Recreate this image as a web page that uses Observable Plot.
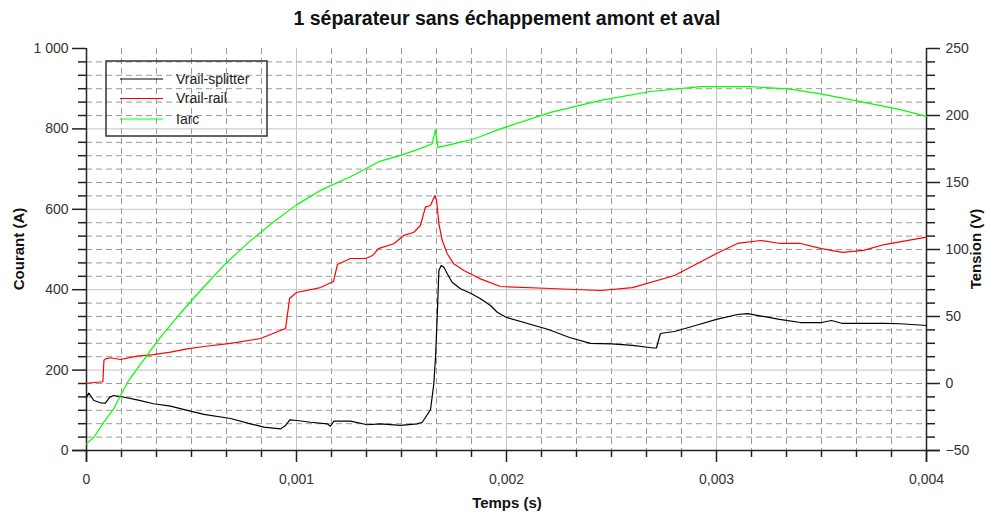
<!DOCTYPE html>
<html>
<head>
<meta charset="utf-8">
<script src="https://cdn.jsdelivr.net/npm/d3@7"></script>
<script src="https://cdn.jsdelivr.net/npm/@observablehq/plot@0.6"></script>
<style>
  html, body { margin: 0; padding: 0; background: #fff; }
  #chart { width: 987px; height: 514px; }
</style>
</head>
<body>
<div id="chart"></div>
<script>
// ---- Data (time in ms) ----
const titleText = "1 séparateur sans échappement amont et aval";
const seriesNames = ["Vrail-splitter", "Vrail-rail", "Iarc"];
const seriesColors = ["#000000", "#ff0000", "#00ff00"];

// Iarc (A), left axis
const tIarc = [0, 0.035, 0.082, 0.130, 0.162, 0.201, 0.241, 0.292, 0.340, 0.448, 0.543, 0.662, 0.781, 0.9, 1.0, 1.114, 1.257, 1.4, 1.495, 1.590, 1.646, 1.662, 1.673, 1.718, 1.781, 1.832, 1.876, 1.971, 2.210, 2.448, 2.686, 2.924, 3.162, 3.352, 3.495, 3.686, 3.876, 4.0];
const vIarc = [17, 33, 70, 104, 137, 174, 203, 239, 274, 342, 398, 465, 522, 572, 611, 647, 681, 720, 734, 751, 763, 798, 754, 759, 767, 773, 781, 800, 841, 871, 893, 905, 905, 899, 887, 868, 848, 831];

// Vrail-splitter (V), right axis
const tSplitter = [0, 0.011, 0.035, 0.067, 0.090, 0.111, 0.130, 0.162, 0.241, 0.320, 0.4, 0.480, 0.559, 0.686, 0.781, 0.844, 0.924, 0.948, 0.968, 1.003, 1.067, 1.146, 1.162, 1.178, 1.257, 1.337, 1.4, 1.495, 1.575, 1.599, 1.638, 1.654, 1.662, 1.670, 1.678, 1.689, 1.702, 1.718, 1.741, 1.781, 1.829, 1.876, 1.924, 1.956, 2.0, 2.2, 2.3, 2.4, 2.5, 2.6, 2.7, 2.714, 2.733, 2.8, 2.9, 3.0, 3.1, 3.148, 3.2, 3.3, 3.4, 3.5, 3.548, 3.6, 3.7, 3.8, 3.876, 4.0];
const vSplitter = [-10.2, -7.2, -12.7, -14.4, -14.7, -10.2, -9.0, -9.7, -12.2, -15.1, -16.9, -20.1, -23.1, -26.1, -30.1, -32.6, -33.8, -31.3, -27.1, -27.6, -28.9, -30.1, -31.9, -28.1, -28.1, -30.8, -30.1, -31.3, -30.1, -28.9, -19.6, -0.2, 19.6, 49.5, 84.3, 88.1, 86.8, 81.9, 75.6, 70.7, 67.4, 63.2, 58.2, 53.2, 49.3, 40.3, 34.3, 29.9, 29.5, 28.4, 26.5, 26.5, 37.3, 38.8, 43.3, 47.8, 51.5, 52.2, 50.7, 47.8, 45.5, 45.5, 47.0, 44.8, 44.8, 44.8, 44.6, 43.3];

// Vrail-rail (V), right axis
const tRail = [0, 0.078, 0.083, 0.090, 0.114, 0.162, 0.241, 0.320, 0.4, 0.480, 0.559, 0.686, 0.829, 0.924, 0.948, 0.967, 1.0, 1.114, 1.176, 1.195, 1.257, 1.329, 1.362, 1.390, 1.463, 1.511, 1.559, 1.590, 1.614, 1.638, 1.659, 1.667, 1.678, 1.694, 1.718, 1.749, 1.797, 1.844, 1.876, 1.971, 2.210, 2.448, 2.6, 2.8, 3.0, 3.1, 3.210, 3.305, 3.4, 3.5, 3.6, 3.7, 3.8, 4.0];
const vRail = [0.2, 1.3, 17.2, 18.4, 19.2, 17.9, 20.4, 21.6, 23.4, 25.9, 27.6, 29.9, 33.6, 39.6, 41.0, 63.4, 67.9, 71.6, 76.1, 88.8, 93.3, 93.3, 95.5, 100.7, 104.3, 110.5, 112.9, 117.9, 131.6, 132.8, 140.3, 136.6, 119.2, 106.7, 96.8, 89.3, 84.3, 80.6, 78.1, 72.4, 70.9, 69.4, 71.6, 80.6, 97.0, 104.5, 106.7, 104.5, 104.5, 100.7, 97.8, 99.3, 103.7, 109.2];

// Tick values
const xMajorTicks = [0, 0.001, 0.002, 0.003, 0.004];
const yLeftMajorTicks = [0, 200, 400, 600, 800, 1000];
const yRightMajorTicks = [-50, 0, 50, 100, 150, 200, 250];

// ---- Helpers ----
const toA = v => (v + 50) * 10 / 3;          // right axis (V) -> left scale (A)
const fromA = a => a * 3 / 10 - 50;
const yMinor = d3.range(0, 31).map(i => i * 100 / 3).filter((d, i) => i % 6 !== 0);
const yMinorRight = d3.range(-50, 251, 10).filter(v => v % 50 !== 0).map(toA);
const xMinor = d3.range(0, 25).map(i => i * 0.001 / 6).filter((d, i) => i % 6 !== 0);
const xGridMajor = [0.001, 0.002, 0.003];
const yGridMajor = [200, 400, 600, 800];

const iarcData = tIarc.map((t, i) => ({t: t / 1000, y: vIarc[i]}));
const splitterData = tSplitter.map((t, i) => ({t: t / 1000, y: toA(vSplitter[i])}));
const railData = tRail.map((t, i) => ({t: t / 1000, y: toA(vRail[i])}));

const fmtX = d => d === 0 ? "0" : d.toFixed(3).replace(".", ",");
const fmtYL = d => d === 1000 ? "1 000" : String(d);

const axisColor = "#222";
const gridDash = {stroke: "#9a9a9a", strokeOpacity: 1, strokeDasharray: "6,4", strokeWidth: 1};
const gridSolid = {stroke: "#c4c4c4", strokeOpacity: 1, strokeWidth: 1};

const svg = Plot.plot({
  width: 987,
  height: 514,
  marginLeft: 86,
  marginRight: 61,
  marginTop: 48,
  marginBottom: 64,
  style: {fontFamily: "'Liberation Sans', Arial, sans-serif", fontSize: "14px", color: axisColor, background: "#fff"},
  x: {domain: [0, 0.004]},
  y: {domain: [0, 1000]},
  marks: [
    Plot.gridY(yMinor, gridDash),
    Plot.gridX(xMinor, gridDash),
    Plot.gridY(yGridMajor, gridSolid),
    Plot.gridX(xGridMajor, gridSolid),
    // left axis
    Plot.axisY({ticks: yLeftMajorTicks, tickSize: 14, tickPadding: 4, tickFormat: fmtYL, label: null, fontSize: 14, stroke: axisColor, strokeWidth: 1.5, fill: "#333"}),
    Plot.axisY({ticks: yMinor, tickSize: 8, tickFormat: () => "", label: null, stroke: axisColor, strokeWidth: 1.5}),
    // right axis
    Plot.axisY({anchor: "right", ticks: yRightMajorTicks.map(toA), tickSize: 13, tickPadding: 6, tickFormat: a => String(Math.round(fromA(a))).replace("-", "\u2212"), label: null, fontSize: 14, stroke: axisColor, strokeWidth: 1.5, fill: "#333"}),
    Plot.axisY({anchor: "right", ticks: yMinorRight, tickSize: 8, tickFormat: () => "", label: null, stroke: axisColor, strokeWidth: 1.5}),
    // x axis
    Plot.axisX({ticks: xMajorTicks, tickSize: 12, tickPadding: 12, tickFormat: fmtX, label: null, fontSize: 14, stroke: axisColor, strokeWidth: 1.5, fill: "#333"}),
    Plot.axisX({ticks: xMinor, tickSize: 7, tickFormat: () => "", label: null, stroke: axisColor, strokeWidth: 1.5}),
    // axis lines
    Plot.ruleX([0], {stroke: axisColor, strokeWidth: 1.5, insetBottom: -12}),
    Plot.ruleX([0.004], {stroke: axisColor, strokeWidth: 1.5, insetBottom: -12}),
    Plot.ruleY([0], {stroke: axisColor, strokeWidth: 1.5, insetLeft: -14, insetRight: -14}),
    // series
    Plot.line(splitterData, {x: "t", y: "y", stroke: seriesColors[0], strokeWidth: 1.2}),
    Plot.line(railData, {x: "t", y: "y", stroke: seriesColors[1], strokeWidth: 1.2}),
    Plot.line(iarcData, {x: "t", y: "y", stroke: seriesColors[2], strokeWidth: 1.2})
  ]
});

const s = d3.select(svg);
// title
s.append("text").attr("x", 507).attr("y", 25).attr("text-anchor", "middle")
  .attr("font-weight", "bold").attr("font-size", 19.5).attr("fill", "#111").text(titleText);
// axis labels
s.append("text").attr("transform", "translate(19,249) rotate(-90)").attr("text-anchor", "middle")
  .attr("dy", "0.35em").attr("font-weight", "bold").attr("font-size", 15).attr("fill", "#111").text("Courant (A)");
s.append("text").attr("transform", "translate(976,249) rotate(-90)").attr("text-anchor", "middle")
  .attr("dy", "0.35em").attr("font-weight", "bold").attr("font-size", 15).attr("fill", "#111").text("Tension (V)");
s.append("text").attr("x", 507).attr("y", 508).attr("text-anchor", "middle")
  .attr("font-weight", "bold").attr("font-size", 15).attr("fill", "#111").text("Temps (s)");
// legend
const lg = s.append("g").attr("text-anchor", "start");
lg.append("rect").attr("x", 106).attr("y", 61).attr("width", 161).attr("height", 75)
  .attr("fill", "none").attr("stroke", "#333").attr("stroke-width", 1.5);
const legendY = [79, 98.5, 119];
seriesNames.forEach((name, i) => {
  lg.append("line").attr("x1", 120).attr("x2", 163).attr("y1", legendY[i]).attr("y2", legendY[i])
    .attr("stroke", seriesColors[i]).attr("stroke-width", 1.2);
  lg.append("text").attr("x", 176).attr("y", legendY[i]).attr("dy", "0.35em").attr("text-anchor", "start")
    .attr("font-size", 14).attr("fill", "#222").text(name);
});

document.getElementById("chart").appendChild(svg);
</script>
</body>
</html>
